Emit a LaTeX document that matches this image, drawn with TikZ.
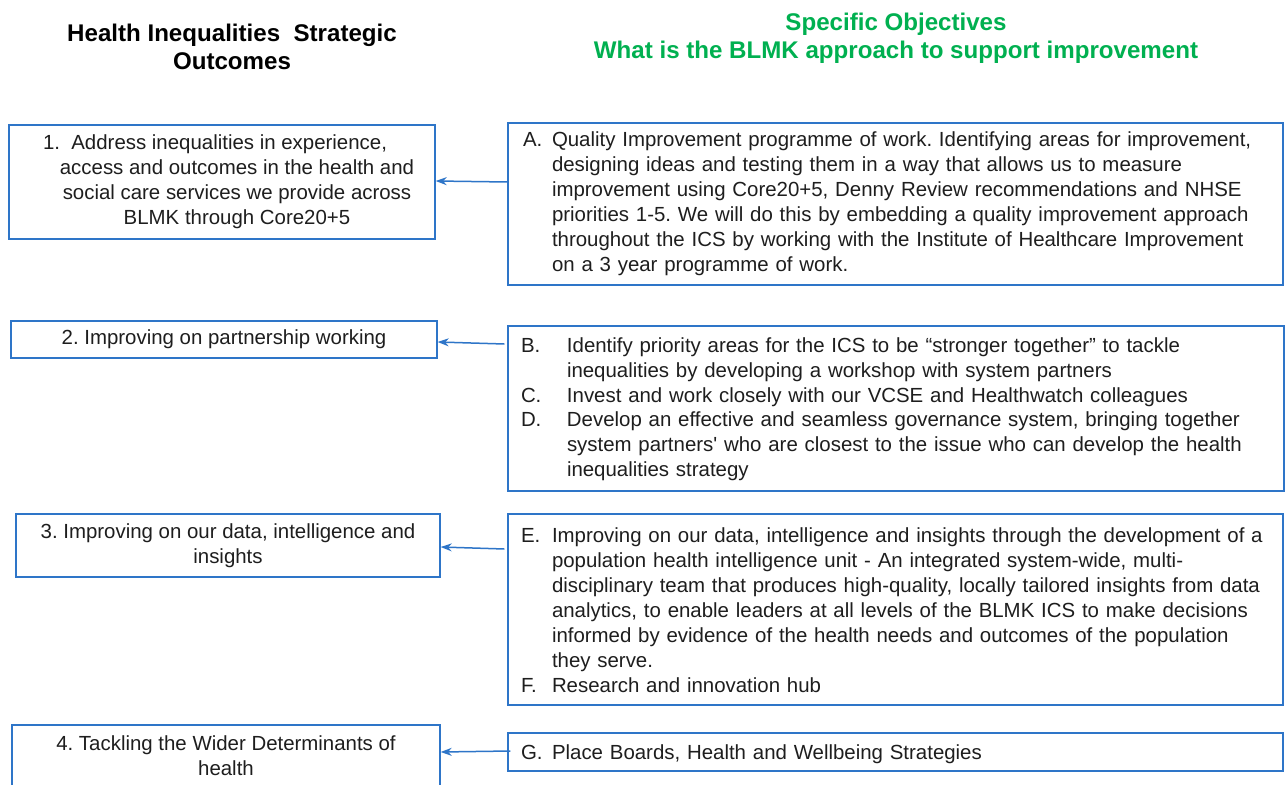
\documentclass[tikz,border=0pt]{standalone}
\usepackage{fontspec}
\setmainfont{Liberation Sans}
\usetikzlibrary{arrows.meta}

\definecolor{boxblue}{RGB}{46,117,200}
\definecolor{headgreen}{RGB}{0,176,80}
\definecolor{ink}{RGB}{30,30,30}

\newcommand\bodyfont{\fontsize{20.5}{25}\selectfont\frenchspacing}
\newcommand\headfont{\fontsize{24.2}{28}\selectfont\bfseries\frenchspacing}

\tikzset{
  outbox/.style={draw=boxblue, line width=1.4bp, inner sep=0pt, align=center,
                 text=ink, font=\bodyfont},
  objbox/.style={draw=boxblue, line width=1.4bp, inner ysep=0pt, inner xsep=14bp,
                 align=left, text=ink, font=\bodyfont},
  link/.style={draw=boxblue, line width=1.5bp, -{Stealth[length=11bp,width=8bp]}},
  heading/.style={align=center, font=\headfont, inner sep=0pt}
}

\begin{document}
\begin{tikzpicture}[x=1bp, y=-1bp]
  \useasboundingbox (0,0) rectangle (1285,785);
  \fill[white] (0,0) rectangle (1285,785);
  \clip (0,0) rectangle (1285,785);

  % column headings
  \node[heading, text=black] (hleft) at (232,47)
    {Health Inequalities\ \ Strategic\\Outcomes};
  \node[heading, text=headgreen] (hright) at (896,38)
    {Specific Objectives\\What is the BLMK approach to support improvement};

  % strategic outcomes
  \node[outbox, minimum width=426bp, minimum height=114bp] (o1) at (222,182)
    {1.\ \ Address inequalities in experience,\hspace*{14bp}\\
     \hspace*{30bp}access and outcomes in the health and\\
     \hspace*{30bp}social care services we provide across\\
     \hspace*{30bp}BLMK through Core20+5};
  \node[outbox, minimum width=426bp, minimum height=37bp] (o2) at (224,339.5)
    {2. Improving on partnership working};
  \node[outbox, minimum width=424bp, minimum height=63bp] (o3) at (228,545.5)
    {3. Improving on our data, intelligence and\\insights};
  \node[outbox, minimum width=428bp, minimum height=61bp] (o4) at (226,755.5)
    {4. Tackling the Wider Determinants of\\health};

  % specific objectives
  \node[objbox, inner xsep=15bp, text width=745bp, minimum height=162bp]
    (oa) at (895.5,204)
    {\begin{tabular}{@{}p{29bp}@{}l@{}}
      A. & Quality Improvement programme of work. Identifying areas for improvement,\\
         & designing ideas and testing them in a way that allows us to measure\\
         & improvement using Core20+5, Denny Review recommendations and NHSE\\
         & priorities 1-5. We will do this by embedding a quality improvement approach\\
         & throughout the ICS by working with the Institute of Healthcare Improvement\\
         & on a 3 year programme of work.
     \end{tabular}};
  \node[objbox, inner xsep=13bp, text width=750bp, minimum height=165bp] (obcd) at (896,408.5)
    {\vspace*{-2bp}\begin{tabular}{@{}p{46bp}@{}l@{}}
      B. & Identify priority areas for the ICS to be “stronger together” to tackle\\
         & inequalities by developing a workshop with system partners\\
      C. & Invest and work closely with our VCSE and Healthwatch colleagues\\
      D. & Develop an effective and seamless governance system, bringing together\\
         & system partners\textquotesingle{} who are closest to the issue who can develop the health\\
         & inequalities strategy
     \end{tabular}};
  \node[objbox, inner xsep=13bp, text width=749bp, minimum height=191bp] (oef) at (895.5,609.5)
    {\vspace*{-6bp}\begin{tabular}{@{}p{31bp}@{}l@{}}
      E. & Improving on our data, intelligence and insights through the development of a\\
         & population health intelligence unit - An integrated system-wide, multi-\\
         & disciplinary team that produces high-quality, locally tailored insights from data\\
         & analytics, to enable leaders at all levels of the BLMK ICS to make decisions\\
         & informed by evidence of the health needs and outcomes of the population\\
         & they serve.\\
      F. & Research and innovation hub
     \end{tabular}};
  \node[objbox, inner xsep=13bp, text width=749bp, minimum height=38bp] (og) at (895.5,752)
    {\vspace*{-6bp}\begin{tabular}{@{}p{31bp}@{}l@{}}
      G. & Place Boards, Health and Wellbeing Strategies
     \end{tabular}};

  % objectives feed the outcomes
  \draw[link] ([yshift=22bp]oa.west)   -- ([yshift=1bp]o1.east);
  \draw[link] ([shift={(-3bp,64.5bp)}]obcd.west) -- ([yshift=-2.5bp]o2.east);
  \draw[link] ([shift={(-3bp,60.5bp)}]oef.west)  -- ([yshift=-1.5bp]o3.east);
  \draw[link] ([shift={(3bp,1bp)}]og.west)     -- ([yshift=3.5bp]o4.east);
\end{tikzpicture}
\end{document}
